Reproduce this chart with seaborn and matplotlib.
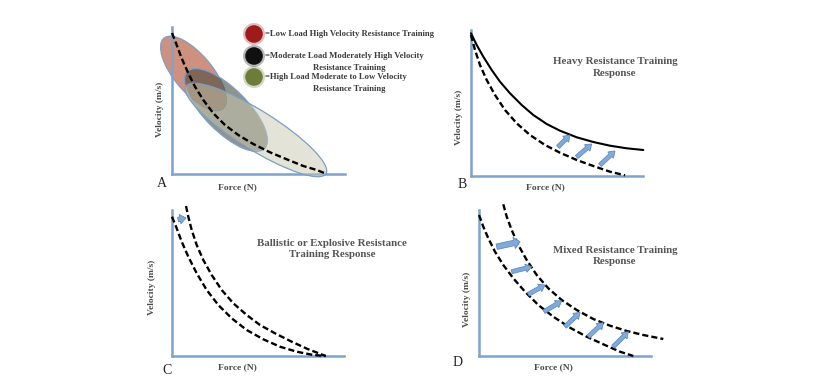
import numpy as np
import pandas as pd
import seaborn as sns
import matplotlib.pyplot as plt
from matplotlib.patches import Ellipse

# force / velocity in arbitrary units
# panel A: baseline force-velocity curve and training zones
a_force = [0, 4.7, 9.7, 16.3, 23, 31.3, 41.3, 53, 66.3, 81.3, 98, 114.7, 131.3, 144.7, 153]
a_vel = [141, 129, 115.7, 100.7, 87.3, 74, 60.7, 49, 39, 30, 21.7, 14.7, 8, 4, 0.7]
zone_force = [21.5, 54, 84]
zone_vel = [100.5, 64, 44]
zone_len = [92, 109, 165]
zone_wid = [38, 43, 39]
zone_angle = [-50, -45, -32]
zone_colors = ['#b5553a', '#4a4a40', '#c8c8b0']
zone_alpha = [0.65, 0.6, 0.5]
legend_colors = ['#9e1b1b', '#101010', '#6d7c3a']
legend_vel = [140, 118, 97]
legend_lines = [
    ['=Low Load High Velocity Resistance Training'],
    ['=Moderate Load Moderately High Velocity', 'Resistance Training'],
    ['=High Load Moderate to Low Velocity', 'Resistance Training'],
]

# panel B: heavy resistance training
b_force_after = [0, 5.7, 12.3, 20.7, 29, 39, 50.7, 62.3, 75.7, 89, 105.7, 122.3, 139, 155.7, 172.3]
b_vel_after = [142.7, 131, 119.3, 106, 94.3, 82.7, 71, 61, 52, 45.3, 38.7, 34, 30.3, 27.7, 26]
b_force_before = [0, 4, 9, 15.7, 24, 34, 45.7, 59, 74, 89, 105.7, 122.3, 139, 154]
b_vel_before = [141, 126, 111, 96, 81, 66, 52.7, 41, 31, 23.3, 16, 10, 4.3, 0.7]
b_arrow_tail = [(87, 29), (105.7, 19), (129, 11)]
b_arrow_head = [(99, 41), (120.7, 32), (144, 25)]

# panel C: ballistic training
c_force_before = [0, 4.7, 9.7, 16.3, 24.7, 34.7, 46.3, 59.7, 74.7, 91.3, 108, 124.7, 141.3, 153.7]
c_vel_before = [139.3, 127.7, 114.3, 99.3, 82.7, 66, 51, 37.7, 26, 16.7, 9.3, 4.3, 1, 0]
c_force_after = [14, 16.3, 19.7, 24.7, 31.3, 39.7, 49.7, 61.3, 74.7, 88, 103, 119.7, 136.3, 153.7]
c_vel_after = [150, 139.3, 126, 111, 96, 81, 66, 52.7, 41, 31, 22.7, 14.3, 6.7, 0]
c_arrow_tail = [(6, 136.5)]
c_arrow_head = [(14, 138)]

# panel D: mixed training
d_force_before = [0, 4.3, 9.3, 16, 24.3, 34.3, 46, 59.3, 74.3, 91, 107.7, 124.3, 141, 154.3]
d_vel_before = [141, 129.3, 117.7, 104.3, 91, 77.7, 64.3, 51, 39.3, 28.3, 19.3, 11.7, 4.3, 0]
d_force_after = [24.3, 27.7, 32.7, 39.3, 47.7, 57.7, 69.3, 82.7, 97.7, 114.3, 131, 147.7, 164.3, 184.3]
d_vel_after = [151.7, 139.3, 126, 111, 96, 81, 67.7, 56, 46, 37, 30.3, 25, 21, 17]
d_arrow_tail = [(17.7, 109.3), (32.7, 84.3), (49.3, 61.7), (65, 44.3), (86, 29.3), (109.3, 19.3), (134.3, 9.3)]
d_arrow_head = [(41, 114.3), (52.7, 89.3), (66, 71), (82.7, 55), (101, 43.7), (124.3, 33.3), (149.3, 24.3)]

titles = {
    'B': ['Heavy Resistance Training', 'Response'],
    'C': ['Ballistic or Explosive Resistance', 'Training Response'],
    'D': ['Mixed Resistance Training', 'Response'],
}

sns.set_style('white')
plt.rcParams['font.family'] = ['Liberation Serif', 'DejaVu Serif']

W, H = 830, 379
fig = plt.figure(figsize=(W / 100, H / 100), dpi=100)
AXIS_BLUE = '#7ea3cc'
ARROW_FC = '#80aad9'
ARROW_EC = '#5f8cbf'
TXT = '#4a4a4a'
DASH = (0, (2.6, 1.3))


def panel(left, bottom, w, h):
    ax = fig.add_axes([left / W, 1 - bottom / H, w / W, h / H])
    ax.set_facecolor('none')
    for s in ['top', 'right']:
        ax.spines[s].set_visible(False)
    for s in ['left', 'bottom']:
        ax.spines[s].set_color(AXIS_BLUE)
        ax.spines[s].set_linewidth(1.8)
    ax.set_xticks([])
    ax.set_yticks([])
    return ax


def curve(ax, f, v, dashed=True):
    df = pd.DataFrame({'Force': f, 'Velocity': v})
    sns.lineplot(data=df, x='Force', y='Velocity', ax=ax, color='black',
                 sort=False, lw=1.7 if dashed else 1.5,
                 linestyle=DASH if dashed else '-', clip_on=False, zorder=5)


def arrows(ax, tails, heads, width=4.0):
    for (x0, y0), (x1, y1) in zip(tails, heads):
        ax.arrow(x0, y0, x1 - x0, y1 - y0, width=width, head_width=width * 2.1,
                 head_length=6, length_includes_head=True, fc=ARROW_FC,
                 ec=ARROW_EC, lw=0.6, zorder=6, clip_on=False)


def finish(ax, w, h, fx, fy, vx, vy):
    ax.set_xlim(0, w)
    ax.set_ylim(0, h)
    ax.set_xlabel('')
    ax.set_ylabel('')
    ax.text(fx, fy, 'Force (N)', transform=ax.transAxes, ha='center',
            va='center', fontsize=6.8, color=TXT, fontweight='bold')
    ax.text(vx, vy, 'Velocity (m/s)', transform=ax.transAxes, ha='center',
            va='center', rotation=90, fontsize=6.8, color=TXT, fontweight='bold')


def title(ax, x, y, lines):
    for i, t in enumerate(lines):
        ax.text(x, y - i * 11, t, ha='center', va='center', fontsize=7.8,
                color='#555555', fontweight='bold', clip_on=False)


# ---- A ----
axA = panel(172, 174, 173, 147)
for i in range(3):
    axA.add_patch(Ellipse((zone_force[i], zone_vel[i]), zone_len[i], zone_wid[i],
                          angle=zone_angle[i], fc=zone_colors[i], alpha=zone_alpha[i],
                          ec='none', zorder=2 + i, clip_on=False))
    axA.add_patch(Ellipse((zone_force[i], zone_vel[i]), zone_len[i], zone_wid[i],
                          angle=zone_angle[i], fc='none', ec='#7d9ec6', lw=0.9,
                          zorder=2 + i, clip_on=False))
curve(axA, a_force, a_vel)
axA.scatter([82] * 3, legend_vel, s=250, c=legend_colors, alpha=0.3, lw=0,
            zorder=6, clip_on=False)
axA.scatter([82] * 3, legend_vel, s=160, c=legend_colors, lw=0, zorder=7,
            clip_on=False)
for v, lines in zip(legend_vel, legend_lines):
    axA.text(93, v, lines[0], ha='left', va='center', fontsize=6.2,
             color='#3c3c3c', fontweight='bold', clip_on=False)
    if len(lines) > 1:
        axA.text(177, v - 12, lines[1], ha='center', va='center', fontsize=6.2,
                 color='#3c3c3c', fontweight='bold', clip_on=False)
finish(axA, 173, 147, 0.38, -0.09, -0.07, 0.44)

# ---- B ----
axB = panel(471, 176, 172, 146)
curve(axB, b_force_after, b_vel_after, dashed=False)
curve(axB, b_force_before, b_vel_before)
arrows(axB, b_arrow_tail, b_arrow_head)
title(axB, 144, 114, titles['B'])
finish(axB, 172, 146, 0.43, -0.075, -0.07, 0.40)

# ---- C ----
axC = panel(172, 356, 172, 146)
curve(axC, c_force_before, c_vel_before)
curve(axC, c_force_after, c_vel_after)
arrows(axC, c_arrow_tail, c_arrow_head, width=4.5)
title(axC, 160, 113, titles['C'])
finish(axC, 172, 146, 0.38, -0.075, -0.116, 0.47)

# ---- D ----
axD = panel(479, 356, 172, 146)
curve(axD, d_force_before, d_vel_before)
curve(axD, d_force_after, d_vel_after)
arrows(axD, d_arrow_tail[:1], d_arrow_head[:1], width=5.5)
arrows(axD, d_arrow_tail[1:], d_arrow_head[1:])
title(axD, 136, 106, titles['D'])
finish(axD, 172, 146, 0.43, -0.075, -0.07, 0.39)

for letter, (x, y) in zip('ABCD', [(162, 184), (462, 185), (167, 370), (458, 363)]):
    fig.text(x / W, 1 - y / H, letter, ha='center', va='center', fontsize=10,
             color='#222222')

fig.savefig('out.png', dpi=100)
